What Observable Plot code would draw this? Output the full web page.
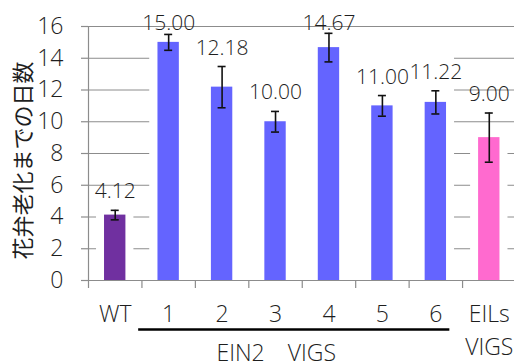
<!DOCTYPE html>
<html><head><meta charset="utf-8">
<script src="https://cdn.jsdelivr.net/npm/d3@7"></script>
<script src="https://cdn.jsdelivr.net/npm/@observablehq/plot@0.6"></script>
<style>
html,body{margin:0;padding:0;background:#fff;overflow:hidden}
</style></head><body><div id="chart"></div>
<script>
const categories = ["WT", "1", "2", "3", "4", "5", "6", "EILs\nVIGS"];
const values = [4.12, 15.00, 12.18, 10.00, 14.67, 11.00, 11.22, 9.00];
const errors = [0.3, 0.5, 1.3, 0.65, 0.9, 0.65, 0.73, 1.55];
const barColors = ["#7030A0", "#6464FF", "#6464FF", "#6464FF", "#6464FF", "#6464FF", "#6464FF", "#FF6ACF"];
const yTicks = [0, 2, 4, 6, 8, 10, 12, 14, 16];
const yTitle = "花弁老化までの日数";
const groupLabel = "EIN2\u3000VIGS";
const groupMembers = ["1", "2", "3", "4", "5", "6"];

const rows = categories.map((c, i) => ({
  i, label: c, v: values[i], e: errors[i], color: barColors[i], text: values[i].toFixed(2)
}));
const gIdx = groupMembers.map(m => categories.indexOf(m));
const group = {
  first: d3.min(gIdx), last: d3.max(gIdx),
  top: d3.max(gIdx, k => values[k] + errors[k])
};
const yMax = d3.max(yTicks);
const half = 0.2; // half bar width in band units
const boundaries = categories.map((c, i) => i - 0.5).concat([categories.length - 0.5]);
const gray = "#8c8c8c";
const ink = "#1e1e1e";

const chart = Plot.plot({
  width: 514, height: 363,
  marginLeft: 88, marginRight: 0, marginTop: 26, marginBottom: 83,
  style: {fontFamily: "'Open Sans', sans-serif", fontSize: "23px", fontWeight: 300, background: "white", color: ink},
  x: {type: "linear", domain: [-0.5, categories.length - 0.5], range: [88, 515.5], axis: null, label: null},
  y: {domain: [0, yMax], range: [280, 26], axis: null, label: null},
  color: {type: "identity"},
  marks: [
    // gridlines
    Plot.ruleY(yTicks.filter(t => t > 0), {stroke: gray, strokeWidth: 1}),
    // white masks (Excel-style gridline interruptions)
    Plot.rectY([group], {x1: d => d.first - half, x2: d => d.last + half, y1: 0, y2: d => d.top, fill: "white", insetLeft: -8, insetRight: -8}),
    Plot.rectY(rows, {x1: d => d.i - half, x2: d => d.i + half, y1: 0, y2: "v", fill: "white", insetLeft: -8, insetRight: -8}),
    // bars
    Plot.rectY(rows, {x1: d => d.i - half, x2: d => d.i + half, y1: 0, y2: "v", fill: "color"}),
    // error bars
    Plot.ruleX(rows, {x: "i", y1: d => d.v - d.e, y2: d => d.v + d.e, stroke: "#111", strokeWidth: 1.6}),
    Plot.ruleY(rows, {y: d => d.v - d.e, x1: "i", x2: "i", insetLeft: -4, insetRight: -4, stroke: "#111", strokeWidth: 1.6}),
    Plot.ruleY(rows, {y: d => d.v + d.e, x1: "i", x2: "i", insetLeft: -4, insetRight: -4, stroke: "#111", strokeWidth: 1.6}),
    // data labels
    Plot.text(rows, {x: "i", y: d => Math.min(d.v + d.e, yMax - 1), text: "text", lineAnchor: "bottom", dy: -12, fontSize: 21, fill: ink}),
    // axes
    Plot.ruleY([0], {stroke: gray, strokeWidth: 1.2}),
    Plot.ruleX([-0.5], {y1: 0, y2: yMax, stroke: gray, strokeWidth: 1.2}),
    Plot.ruleY(yTicks, {y: d => d, x1: -0.5, x2: -0.5, insetLeft: -7, insetRight: 0, stroke: gray, strokeWidth: 1.2}),
    Plot.axisX({ticks: boundaries, tickFormat: () => "", label: null, tickSize: 8, stroke: gray, strokeWidth: 1.2}),
    Plot.text(yTicks, {x: -0.5, y: d => d, text: d => String(d), textAnchor: "end", dx: -25, fontSize: 23, fill: ink}),
    Plot.text(rows, {x: "i", frameAnchor: "bottom", text: "label", lineAnchor: "top", dy: 19, fontSize: 23, lineHeight: 1.4, fill: ink}),
    // group bracket and label
    Plot.ruleY([group], {y: 0, x1: d => d.first, x2: d => d.last, insetLeft: -30, insetRight: -14, dy: 49, stroke: "#000", strokeWidth: 2.6}),
    Plot.text([groupLabel], {x: (group.first + group.last) / 2, frameAnchor: "bottom", text: d => d, lineAnchor: "top", dy: 64, dx: -26, fontSize: 23, fill: ink}),
    // y title
    Plot.text([yTitle], {frameAnchor: "left", text: d => d, textAnchor: "middle", rotate: -90, dx: -65, dy: 7, fontSize: 22, fontWeight: 400, fontFamily: "'Noto Sans CJK JP', sans-serif", fill: ink})
  ]
});
document.getElementById("chart").appendChild(chart);
</script></body></html>
